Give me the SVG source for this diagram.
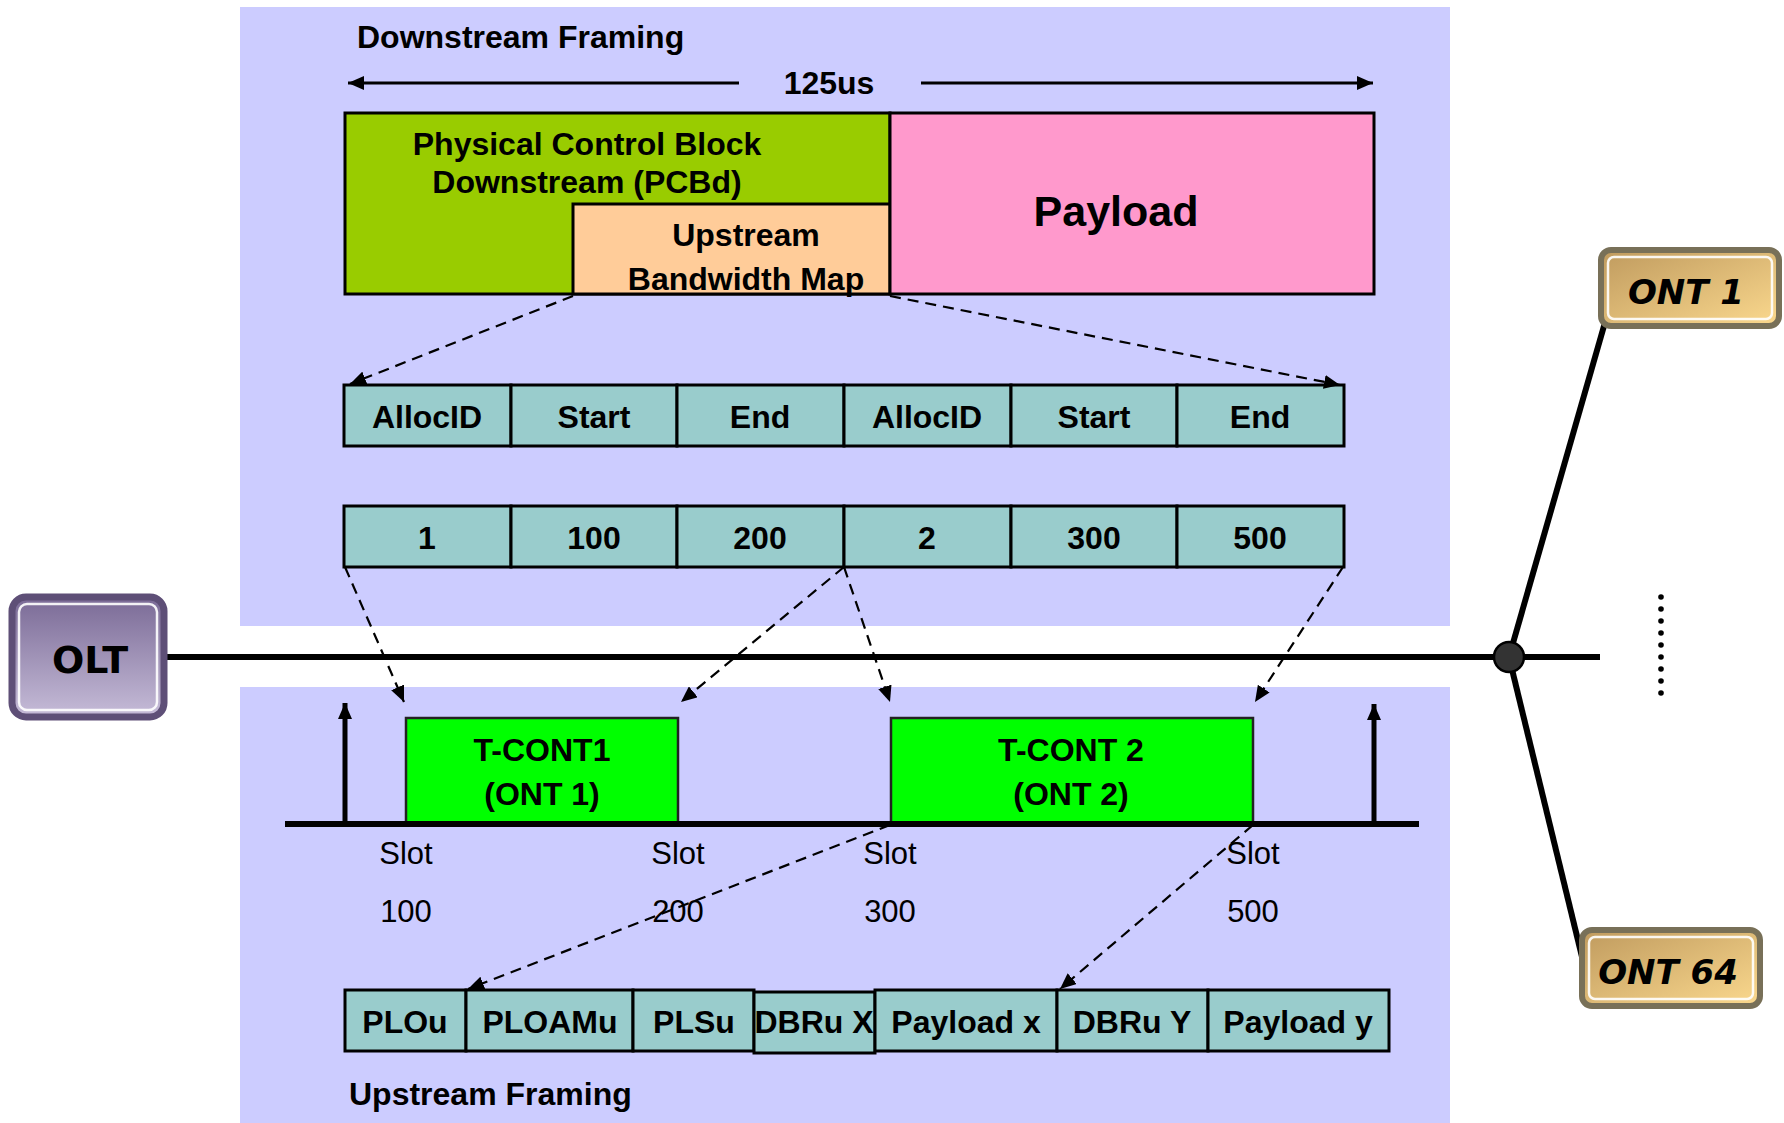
<svg xmlns="http://www.w3.org/2000/svg" width="1784" height="1123" viewBox="0 0 1784 1123">
<defs>
<marker id="ah" markerUnits="userSpaceOnUse" markerWidth="18" markerHeight="14" refX="16" refY="7" orient="auto">
<path d="M0,0 L16,7 L0,14 Z" fill="#000"/>
</marker>
<linearGradient id="gOlt" x1="0" y1="0" x2="0" y2="1">
<stop offset="0" stop-color="#7a6a96"/>
<stop offset="1" stop-color="#c6bcd8"/>
</linearGradient>
<linearGradient id="gOnt" x1="0" y1="0" x2="1" y2="1">
<stop offset="0" stop-color="#bf9a5e"/>
<stop offset="1" stop-color="#fbd98e"/>
</linearGradient>
<style>
.panel{fill:#ccccff}
.b{font-family:"Liberation Sans",Arial,sans-serif;font-weight:bold;font-size:32px;fill:#000}
.r{font-family:"Liberation Sans",Arial,sans-serif;font-size:31px;fill:#000}
.m{text-anchor:middle}
.cell{fill:#99cccc;stroke:#000;stroke-width:3}
.tc{fill:#00ff00;stroke:#222;stroke-width:2.5}
.dash{fill:none;stroke:#000;stroke-width:2.2;stroke-dasharray:11 7}
.solid{fill:none;stroke:#000;stroke-width:3}
.thick{fill:none;stroke:#000;stroke-width:6}
.comic{font-family:"Comic Sans MS","DejaVu Sans",sans-serif;font-weight:bold;font-size:38px;fill:#000}
</style>
</defs>

<rect class="panel" x="240" y="7" width="1210" height="619"/>
<rect class="panel" x="240" y="687" width="1210" height="436"/>

<g id="labels">
<text class="b" x="357" y="48">Downstream Framing</text>
<text class="b" x="349" y="1105">Upstream Framing</text>
<text class="b m" x="829" y="94">125us</text>
</g>

<g id="pcbd">
<rect x="345" y="113" width="545" height="181" fill="#99cc00" stroke="#000" stroke-width="3"/>
<text class="b m" x="587" y="155">Physical Control Block</text>
<text class="b m" x="587" y="193">Downstream (PCBd)</text>
</g>
<g id="bwmap">
<rect x="573" y="204" width="317" height="90" fill="#ffcc99" stroke="#000" stroke-width="3"/>
<text class="b m" x="746" y="246">Upstream</text>
<text class="b m" x="746" y="290">Bandwidth Map</text>
</g>
<g id="payload">
<rect x="890" y="113" width="484" height="181" fill="#ff99cc" stroke="#000" stroke-width="3"/>
<text class="b m" x="1116" y="226" style="font-size:43px">Payload</text>
</g>

<g id="header-row">
<rect class="cell" x="344" y="385" width="167" height="61"/>
<rect class="cell" x="511" y="385" width="166" height="61"/>
<rect class="cell" x="677" y="385" width="167" height="61"/>
<rect class="cell" x="844" y="385" width="167" height="61"/>
<rect class="cell" x="1011" y="385" width="166" height="61"/>
<rect class="cell" x="1177" y="385" width="167" height="61"/>
<text class="b m" x="427" y="428">AllocID</text>
<text class="b m" x="594" y="428">Start</text>
<text class="b m" x="760" y="428">End</text>
<text class="b m" x="927" y="428">AllocID</text>
<text class="b m" x="1094" y="428">Start</text>
<text class="b m" x="1260" y="428">End</text>
</g>

<g id="value-row">
<rect class="cell" x="344" y="506" width="167" height="61"/>
<rect class="cell" x="511" y="506" width="166" height="61"/>
<rect class="cell" x="677" y="506" width="167" height="61"/>
<rect class="cell" x="844" y="506" width="167" height="61"/>
<rect class="cell" x="1011" y="506" width="166" height="61"/>
<rect class="cell" x="1177" y="506" width="167" height="61"/>
<text class="b m" x="427" y="549">1</text>
<text class="b m" x="594" y="549">100</text>
<text class="b m" x="760" y="549">200</text>
<text class="b m" x="927" y="549">2</text>
<text class="b m" x="1094" y="549">300</text>
<text class="b m" x="1260" y="549">500</text>
</g>

<g id="tcont1">
<rect class="tc" x="406" y="718" width="272" height="106"/>
<text class="b m" x="542" y="761">T-CONT1</text>
<text class="b m" x="542" y="805">(ONT 1)</text>
</g>
<g id="tcont2">
<rect class="tc" x="891" y="718" width="362" height="106"/>
<text class="b m" x="1071" y="761">T-CONT 2</text>
<text class="b m" x="1071" y="805">(ONT 2)</text>
</g>

<g id="slots">
<text class="r m" x="406" y="864">Slot</text>
<text class="r m" x="406" y="922">100</text>
<text class="r m" x="678" y="864">Slot</text>
<text class="r m" x="678" y="922">200</text>
<text class="r m" x="890" y="864">Slot</text>
<text class="r m" x="890" y="922">300</text>
<text class="r m" x="1253" y="864">Slot</text>
<text class="r m" x="1253" y="922">500</text>
</g>

<g id="upstream-row">
<rect class="cell" x="345" y="990" width="121" height="61"/>
<rect class="cell" x="466" y="990" width="167" height="61"/>
<rect class="cell" x="633" y="990" width="121" height="61"/>
<rect class="cell" x="754" y="992" width="121" height="61"/>
<rect class="cell" x="875" y="990" width="182" height="61"/>
<rect class="cell" x="1057" y="990" width="151" height="61"/>
<rect class="cell" x="1208" y="990" width="181" height="61"/>
<text class="b m" x="405" y="1033">PLOu</text>
<text class="b m" x="550" y="1033">PLOAMu</text>
<text class="b m" x="694" y="1033">PLSu</text>
<text class="b m" x="814" y="1033">DBRu X</text>
<text class="b m" x="966" y="1033">Payload x</text>
<text class="b m" x="1132" y="1033">DBRu Y</text>
<text class="b m" x="1298" y="1033">Payload y</text>
</g>

<g id="connectors">
<line class="solid" x1="739" y1="83" x2="348" y2="83" marker-end="url(#ah)"/>
<line class="solid" x1="921" y1="83" x2="1373" y2="83" marker-end="url(#ah)"/>
<line class="dash" x1="573" y1="296" x2="350" y2="384" marker-end="url(#ah)"/>
<line class="dash" x1="890" y1="296" x2="1340" y2="385" marker-end="url(#ah)"/>
<line class="dash" x1="345" y1="567" x2="404" y2="702" marker-end="url(#ah)"/>
<line class="dash" x1="844" y1="567" x2="681" y2="702" marker-end="url(#ah)"/>
<line class="dash" x1="844" y1="567" x2="890" y2="702" marker-end="url(#ah)"/>
<line class="dash" x1="1343" y1="567" x2="1255" y2="702" marker-end="url(#ah)"/>
<line class="dash" x1="890" y1="825" x2="468" y2="989" marker-end="url(#ah)"/>
<line class="dash" x1="1253" y1="825" x2="1060" y2="989" marker-end="url(#ah)"/>
<line class="thick" x1="285" y1="824" x2="1419" y2="824"/>
<line x1="345" y1="824" x2="345" y2="703" stroke="#000" stroke-width="5" marker-end="url(#ah)"/>
<line x1="1374" y1="824" x2="1374" y2="704" stroke="#000" stroke-width="5" marker-end="url(#ah)"/>
<line class="thick" x1="165" y1="657" x2="1600" y2="657"/>
<line class="thick" x1="1509" y1="657" x2="1608" y2="312"/>
<line class="thick" x1="1509" y1="657" x2="1584" y2="965"/>
<circle cx="1509" cy="657" r="15" fill="#333" stroke="#000" stroke-width="2.5"/>
<g fill="#000">
<circle cx="1661" cy="597" r="2.8"/><circle cx="1661" cy="609" r="2.8"/><circle cx="1661" cy="621" r="2.8"/>
<circle cx="1661" cy="633" r="2.8"/><circle cx="1661" cy="645" r="2.8"/><circle cx="1661" cy="657" r="2.8"/>
<circle cx="1661" cy="669" r="2.8"/><circle cx="1661" cy="681" r="2.8"/><circle cx="1661" cy="693" r="2.8"/>
</g>
</g>

<g id="olt">
<rect x="12" y="597" width="152" height="120" rx="14" fill="url(#gOlt)" stroke="#5e4f77" stroke-width="7"/>
<rect x="19" y="604" width="138" height="106" rx="8" fill="none" stroke="#fff" stroke-width="2.5" opacity="0.9"/>
<text class="comic m" x="90" y="673">OLT</text>
</g>
<g id="ont1">
<rect x="1601" y="250" width="178" height="76" rx="10" fill="url(#gOnt)" stroke="#787058" stroke-width="6"/>
<rect x="1608" y="257" width="164" height="62" rx="6" fill="none" stroke="#fff" stroke-width="2.5" opacity="0.9"/>
<text class="comic m" x="1686" y="304" font-style="italic" style="font-size:34px">ONT 1</text>
</g>
<g id="ont64">
<rect x="1582" y="930" width="178" height="76" rx="10" fill="url(#gOnt)" stroke="#787058" stroke-width="6"/>
<rect x="1589" y="937" width="164" height="62" rx="6" fill="none" stroke="#fff" stroke-width="2.5" opacity="0.9"/>
<text class="comic m" x="1668" y="984" font-style="italic" style="font-size:34px">ONT 64</text>
</g>
</svg>
